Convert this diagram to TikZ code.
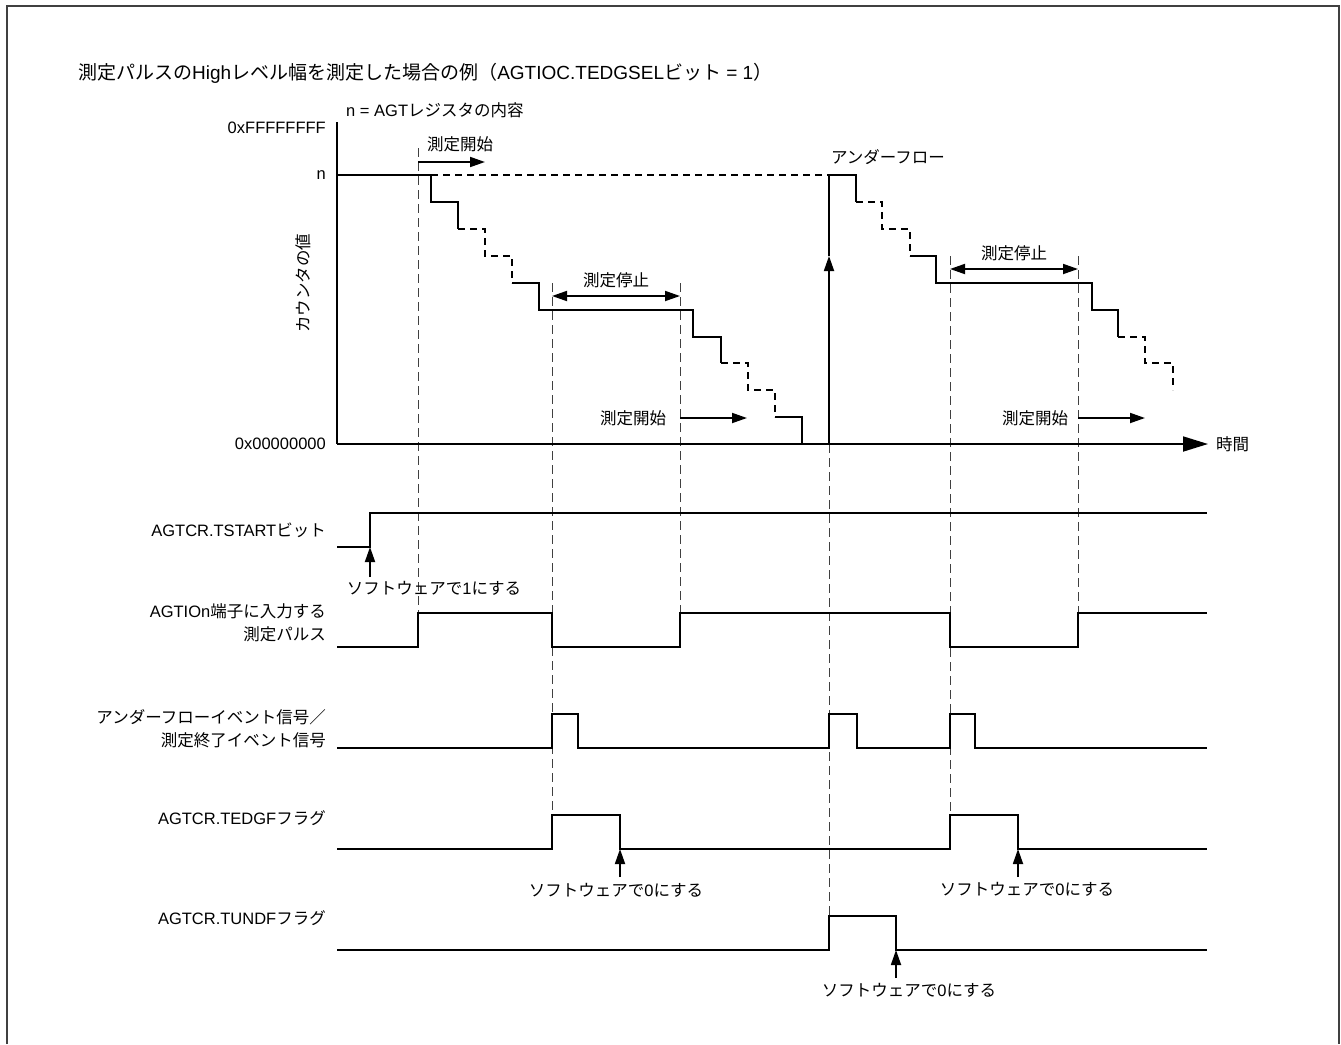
\documentclass[tikz,border=0pt]{standalone}
\usepackage{fontspec}
\setmainfont{Noto Sans CJK JP}
\newfontfamily\lat{Liberation Sans}
\usetikzlibrary{arrows.meta}
\tikzset{
  sig/.style={line width=1.8pt, line join=miter},
  dsig/.style={line width=1.8pt, dash pattern=on 7pt off 5pt},
  guide/.style={line width=1pt, draw=black!75, dash pattern=on 9pt off 5pt},
  lbl/.style={inner sep=0pt, font=\fontsize{16.5}{23}\selectfont},
  rlbl/.style={lbl, anchor=east, align=right},
  uptip/.style={line width=1.8pt, -{Triangle[length=15pt,width=10pt]}},
  dtip/.style={line width=1.8pt, {Triangle[length=15pt,width=10pt]}-{Triangle[length=15pt,width=10pt]}},
  axtip/.style={line width=1.8pt, -{Triangle[length=25pt,width=15pt]}},
}
\begin{document}
\begin{tikzpicture}[x=1pt,y=-1pt]
\useasboundingbox (0,0) rectangle (1341,1044);
% frame
\draw[line width=2pt, draw=black!75] (7,1044) -- (7,6) -- (1339,6) -- (1339,1044);

% guide lines
\draw[guide] (418,148) -- (418,613);
\draw[guide] (552,283) -- (552,849);
\draw[guide] (680,283) -- (680,613);
\draw[guide] (829,444) -- (829,950);
\draw[guide] (950,256) -- (950,849);
\draw[guide] (1078,256) -- (1078,613);

% title
\node[lbl, anchor=west, font=\fontsize{19}{22}\selectfont] (title) at (78,73) {測定パルスの{\lat High}レベル幅を測定した場合の例（{\lat AGTIOC.TEDGSEL}ビット{\lat\ = 1}）};
\node[lbl, anchor=west] (nreg) at (346,110) {{\lat n = AGT}レジスタの内容};
\node[rlbl] (ffff) at (326,128) {\lat 0xFFFFFFFF};
\node[rlbl] (nlab) at (326,175) {\lat n};
\node[rlbl] (zero) at (326,444) {\lat 0x00000000};
\node[lbl, rotate=90] (ylab) at (303,283) {カウンタの値};
\node[lbl, anchor=west] (time) at (1216,444) {時間};

% axes
\coordinate (O) at (337,444);
\coordinate (Ytop) at (337,122);
\coordinate (Xend) at (1208,444);
\draw[sig] (Ytop) -- (O);
\draw[axtip] (O) -- (Xend);

% dashed level n
\draw[dsig] (431,175) -- (829,175);

% staircase 1
\draw[sig] (337,175) -- (431,175) -- (431,202) -- (458,202) -- (458,229);
\draw[dsig] (458,229) -- (485,229) -- (485,256) -- (512,256) -- (512,283);
\draw[sig] (512,283) -- (539,283) -- (539,310) -- (693,310) -- (693,337) -- (721,337) -- (721,363);
\draw[dsig] (721,363) -- (748,363) -- (748,390) -- (775,390) -- (775,417);
\draw[sig] (775,417) -- (802,417) -- (802,444);

% underflow vertical
\coordinate (ufb) at (829,444);
\coordinate (ufm) at (829,256);
\coordinate (uft) at (829,175);
\draw[uptip] (ufb) -- (ufm);
\draw[sig] (ufm) -- (uft);
\node[lbl] (uflab) at (888,157) {アンダーフロー};

% staircase 2
\draw[sig] (829,175) -- (856,175) -- (856,202);
\draw[dsig] (856,202) -- (882,202) -- (882,229) -- (910,229) -- (910,256);
\draw[sig] (910,256) -- (936,256) -- (936,283) -- (1092,283) -- (1092,310) -- (1118,310) -- (1118,337);
\draw[dsig] (1118,337) -- (1145,337) -- (1145,363) -- (1173,363) -- (1173,390);

% measurement start / stop arrows
\node[lbl, anchor=west] (st1) at (427,144) {測定開始};
\coordinate (st1a) at (418,162);
\coordinate (st1b) at (485,162);
\draw[uptip] (st1a) -- (st1b);

\node[lbl] (sp1) at (616,280) {測定停止};
\coordinate (sp1a) at (552,296);
\coordinate (sp1b) at (680,296);
\draw[dtip] (sp1a) -- (sp1b);

\node[lbl] (st2) at (633,418) {測定開始};
\coordinate (st2a) at (680,418);
\coordinate (st2b) at (747,418);
\draw[uptip] (st2a) -- (st2b);

\node[lbl] (sp2) at (1014,253) {測定停止};
\coordinate (sp2a) at (950,269);
\coordinate (sp2b) at (1078,269);
\draw[dtip] (sp2a) -- (sp2b);

\node[lbl] (st3) at (1035,418) {測定開始};
\coordinate (st3a) at (1078,418);
\coordinate (st3b) at (1145,418);
\draw[uptip] (st3a) -- (st3b);

% signal labels
\node[rlbl] (l1) at (326,530) {{\lat AGTCR.TSTART}ビット};
\node[rlbl] (l2) at (326,623) {{\lat AGTIOn}端子に入力する\\測定パルス};
\node[rlbl] (l3) at (326,729) {アンダーフローイベント信号／\\測定終了イベント信号};
\node[rlbl] (l4) at (326,818) {{\lat AGTCR.TEDGF}フラグ};
\node[rlbl] (l5) at (326,918) {{\lat AGTCR.TUNDF}フラグ};

% signals
\draw[sig] (337,547) -- (370,547) -- (370,513) -- (1207,513);
\draw[sig] (337,647) -- (418,647) -- (418,613) -- (552,613) -- (552,647) -- (680,647) -- (680,613) -- (950,613) -- (950,647) -- (1078,647) -- (1078,613) -- (1207,613);
\draw[sig] (337,748) -- (552,748) -- (552,714) -- (578,714) -- (578,748) -- (829,748) -- (829,714) -- (857,714) -- (857,748) -- (950,748) -- (950,714) -- (975,714) -- (975,748) -- (1207,748);
\draw[sig] (337,849) -- (552,849) -- (552,815) -- (620,815) -- (620,849) -- (950,849) -- (950,815) -- (1018,815) -- (1018,849) -- (1207,849);
\draw[sig] (337,950) -- (829,950) -- (829,916) -- (896,916) -- (896,950) -- (1207,950);

% software arrows
\coordinate (sw1a) at (370,577);
\coordinate (sw1b) at (370,547);
\draw[uptip] (sw1a) -- (sw1b);
\node[lbl] (sw1) at (434,588) {ソフトウェアで{\lat 1}にする};

\coordinate (sw2a) at (620,877);
\coordinate (sw2b) at (620,849);
\draw[uptip] (sw2a) -- (sw2b);
\node[lbl] (sw2) at (616,890) {ソフトウェアで{\lat 0}にする};

\coordinate (sw3a) at (1018,877);
\coordinate (sw3b) at (1018,849);
\draw[uptip] (sw3a) -- (sw3b);
\node[lbl] (sw3) at (1027,889) {ソフトウェアで{\lat 0}にする};

\coordinate (sw4a) at (896,978);
\coordinate (sw4b) at (896,950);
\draw[uptip] (sw4a) -- (sw4b);
\node[lbl] (sw4) at (909,990) {ソフトウェアで{\lat 0}にする};
\end{tikzpicture}
\end{document}
